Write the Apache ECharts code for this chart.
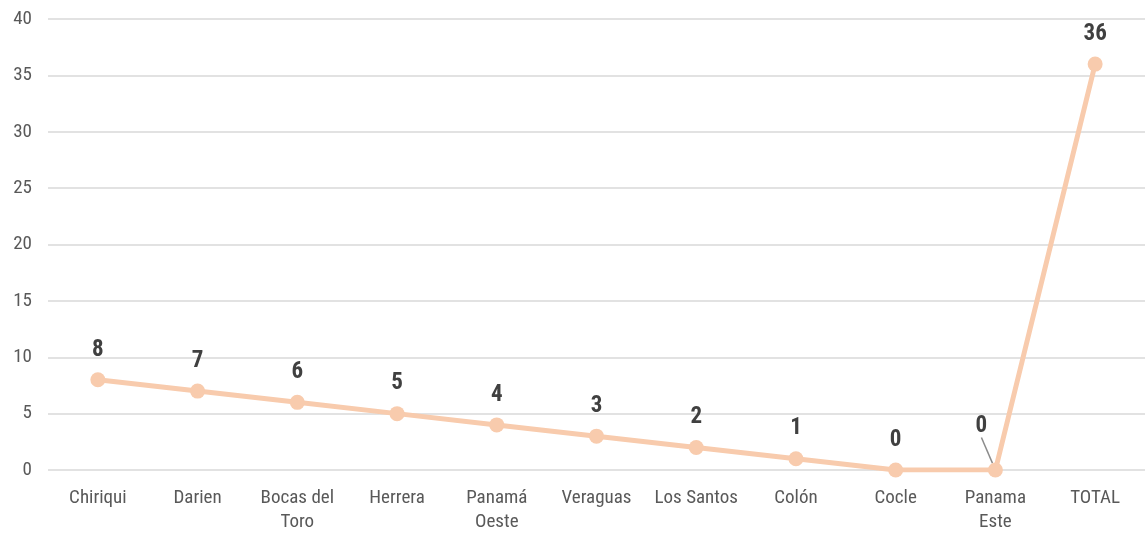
<!DOCTYPE html>
<html><head><meta charset="utf-8">
<script src="https://cdn.jsdelivr.net/npm/echarts@6/dist/echarts.min.js"></script>
<style>html,body{margin:0;padding:0;background:#fff}#c{width:1145px;height:534px}</style>
</head><body><div id="c"></div>
<script>
const categories = ['Chiriqui','Darien','Bocas del\nToro','Herrera','Panamá\nOeste','Veraguas','Los Santos','Colón','Cocle','Panama\nEste','TOTAL'];
const values = [8,7,6,5,4,3,2,1,0,0,36];
const yTicks = {min:0, max:40, interval:5};
const movedLabelIndex = 9;

const font = '"Roboto Condensed","Arial Narrow","Liberation Sans Narrow",sans-serif';
const seriesData = values.map((v,i)=> i===movedLabelIndex
  ? {value:v, labelLine:{show:true, lineStyle:{color:'#8c8c8c', width:1.5}}}
  : {value:v});
const chart = echarts.init(document.getElementById('c'));
chart.setOption({
  animation:false,
  grid:{left:48, top:19, width:1106, height:456, containLabel:false},
  xAxis:{type:'category', data:categories, boundaryGap:true,
    axisLine:{show:false}, axisTick:{show:false},
    axisLabel:{color:'#595959', fontSize:19, fontFamily:font, margin:16, lineHeight:24, interval:0}},
  yAxis:{type:'value', min:yTicks.min, max:yTicks.max, interval:yTicks.interval,
    axisLine:{show:false}, axisTick:{show:false},
    splitLine:{lineStyle:{color:'#d9d9d9', width:1.5}},
    axisLabel:{color:'#595959', fontSize:19, fontFamily:font, margin:16}},
  series:[{
    type:'line', data:seriesData, symbol:'circle', symbolSize:15,
    lineStyle:{color:'#F8CBAD', width:5}, itemStyle:{color:'#F8CBAD'},
    label:{show:true, position:'top', distance:11, color:'#404040', fontSize:23, fontWeight:'bold', fontFamily:font},
    labelLine:{show:false},
    labelLayout:function(p){ if(p.dataIndex===movedLabelIndex){ return {dx:-14, dy:-14}; } return {}; }
  }]
});
</script></body></html>
